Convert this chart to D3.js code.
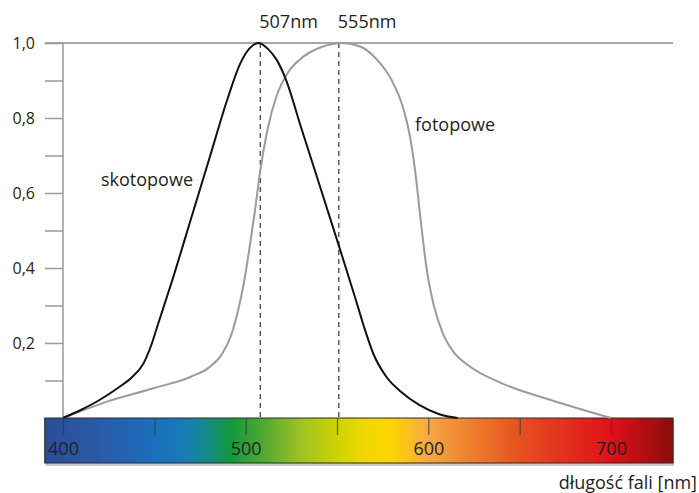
<!DOCTYPE html>
<html>
<head>
<meta charset="utf-8">
<script src="https://cdn.jsdelivr.net/npm/d3@7"></script>
<style>
  body { margin: 0; background: #fff; }
  svg { display: block; font-family: "Open Sans", sans-serif; }
</style>
</head>
<body>
<script>
// scotopic (rod) sensitivity
const scotoWave = [400, 410, 420, 430, 438, 444, 448, 452, 460, 470, 480, 490, 497, 502, 507, 512, 517, 522, 530, 540, 550, 560, 565, 570, 577, 585, 595, 606, 616];
const scotoVal  = [0, 0.022, 0.048, 0.08, 0.11, 0.145, 0.19, 0.25, 0.37, 0.53, 0.69, 0.85, 0.945, 0.985, 1.0, 0.985, 0.955, 0.903, 0.78, 0.628, 0.475, 0.32, 0.24, 0.17, 0.11, 0.07, 0.035, 0.01, 0];

// photopic (cone) sensitivity
const photoWave = [400, 425, 450, 470, 480, 487, 492, 496, 499, 502, 505, 508, 512, 517, 523, 532, 542, 553, 563, 572, 580, 586, 590, 593, 596, 599, 603, 608, 614, 622, 640, 667, 700];
const photoVal  = [0, 0.045, 0.08, 0.11, 0.135, 0.17, 0.22, 0.29, 0.36, 0.45, 0.55, 0.66, 0.77, 0.86, 0.92, 0.965, 0.99, 1.0, 0.99, 0.955, 0.9, 0.83, 0.75, 0.65, 0.52, 0.4, 0.3, 0.225, 0.175, 0.14, 0.093, 0.048, 0];

// peak markers (line position as drawn, label text)
const peakPos = [508, 551];
const peakLabels = ["507nm", "555nm"];

// axis ticks
const yTicks = [0.1, 0.2, 0.3, 0.4, 0.5, 0.6, 0.7, 0.8, 0.9, 1.0];
const yTickLabels = ["", "0,2", "", "0,4", "", "0,6", "", "0,8", "", "1,0"];
const xTicks = [400, 450, 500, 550, 600, 650, 700];
const xTickLabels = ["400", "", "500", "", "600", "", "700"];

// spectrum bar
const barRange = [390, 734];
const specWave  = [390, 420, 450, 465, 478, 492, 510, 530, 550, 565, 580, 600, 620, 650, 680, 700, 734];
const specColor = ["#2b4d96", "#2a5ba8", "#1a6fbd", "#1879b8", "#158a8e", "#11993c", "#52a832", "#9ec224", "#cdd300", "#f0d700", "#fdd500", "#f5a846", "#ef852f", "#e6501f", "#e22a1c", "#e0101a", "#8a0e0c"];

const W = 699, H = 493;
const svg = d3.select("body").append("svg").attr("width", W).attr("height", H);

const x = d3.scaleLinear().domain([400, 700]).range([63, 611]);
const y = d3.scaleLinear().domain([0, 1]).range([418, 43]);

// gradient for the spectrum bar
const grad = svg.append("defs").append("linearGradient")
    .attr("id", "spec")
    .attr("x1", "0%").attr("x2", "100%").attr("y1", "0%").attr("y2", "0%");
grad.selectAll("stop")
    .data(specWave)
    .join("stop")
    .attr("offset", d => ((d - barRange[0]) / (barRange[1] - barRange[0]) * 100) + "%")
    .attr("stop-color", (d, i) => specColor[i]);

const barX = x(barRange[0]), barW = x(barRange[1]) - x(barRange[0]);
// soft shadow below the bar
svg.append("rect")
    .attr("x", barX + 1).attr("y", y(0) + 2)
    .attr("width", barW).attr("height", 46)
    .attr("fill", "#c8c8c8");
svg.append("rect")
    .attr("x", barX).attr("y", y(0))
    .attr("width", barW).attr("height", 45)
    .attr("fill", "url(#spec)")
    .attr("stroke", "#2a2a2a")
    .attr("stroke-width", 1);

// ticks on the bar, labels inside it
const xAxis = svg.append("g")
    .attr("transform", "translate(0," + y(0) + ")")
    .call(d3.axisBottom(x).tickValues(xTicks).tickSize(17)
        .tickFormat((d, i) => xTickLabels[i]));
xAxis.select(".domain").remove();
xAxis.selectAll("line").attr("stroke", "#3a3a3a").attr("stroke-width", 1.2).attr("stroke-opacity", 0.75);
xAxis.selectAll("text")
    .attr("y", 37).attr("dy", 0)
    .attr("fill", "#231f20")
    .style("font-size", "18px")
    .style("font-family", "'Open Sans', sans-serif");

// top reference line at 1,0
svg.append("line")
    .attr("x1", barX).attr("x2", barX + barW)
    .attr("y1", y(1)).attr("y2", y(1))
    .attr("stroke", "#8a8a8a").attr("stroke-width", 1.5);

// y axis
const yAxis = svg.append("g")
    .attr("transform", "translate(" + x(400) + ",0)")
    .call(d3.axisLeft(y).tickValues(yTicks).tickSize(18).tickPadding(10)
        .tickFormat((d, i) => yTickLabels[i]));
yAxis.select(".domain").remove();
yAxis.selectAll("line").attr("stroke", "#9a9a9a").attr("stroke-width", 1.5);
yAxis.selectAll("text")
    .attr("fill", "#231f20")
    .style("font-size", "16px")
    .style("font-family", "'Open Sans', sans-serif");
svg.append("line")
    .attr("x1", x(400)).attr("x2", x(400))
    .attr("y1", y(1)).attr("y2", y(0))
    .attr("stroke", "#9a9a9a").attr("stroke-width", 1.5);

// dashed peak markers
svg.selectAll(".peak")
    .data(peakPos)
    .join("line")
    .attr("class", "peak")
    .attr("x1", d => x(d)).attr("x2", d => x(d))
    .attr("y1", y(1)).attr("y2", y(0))
    .attr("stroke", "#333").attr("stroke-width", 1.2)
    .attr("stroke-dasharray", "5,4");
svg.selectAll(".peakLabel")
    .data(peakPos)
    .join("text")
    .attr("class", "peakLabel")
    .attr("x", d => x(d) - 1).attr("y", 28)
    .attr("fill", "#231f20")
    .style("font-size", "18px")
    .text((d, i) => peakLabels[i]);

// curves
const line = d3.line()
    .x(d => x(d[0]))
    .y(d => y(d[1]))
    .curve(d3.curveMonotoneX);

svg.append("path")
    .datum(photoWave.map((w, i) => [w, photoVal[i]]))
    .attr("d", line)
    .attr("fill", "none")
    .attr("stroke", "#9b9b9b")
    .attr("stroke-width", 2);

svg.append("path")
    .datum(scotoWave.map((w, i) => [w, scotoVal[i]]))
    .attr("d", line)
    .attr("fill", "none")
    .attr("stroke", "#111")
    .attr("stroke-width", 2);

// curve names and axis title
svg.append("text")
    .attr("x", 101).attr("y", 186)
    .attr("fill", "#231f20")
    .style("font-size", "18px")
    .text("skotopowe");
svg.append("text")
    .attr("x", 415).attr("y", 131)
    .attr("fill", "#231f20")
    .style("font-size", "18px")
    .text("fotopowe");
svg.append("text")
    .attr("x", 697).attr("y", 489)
    .attr("text-anchor", "end")
    .attr("fill", "#231f20")
    .style("font-size", "18px")
    .text("długość fali [nm]");
</script>
</body>
</html>
